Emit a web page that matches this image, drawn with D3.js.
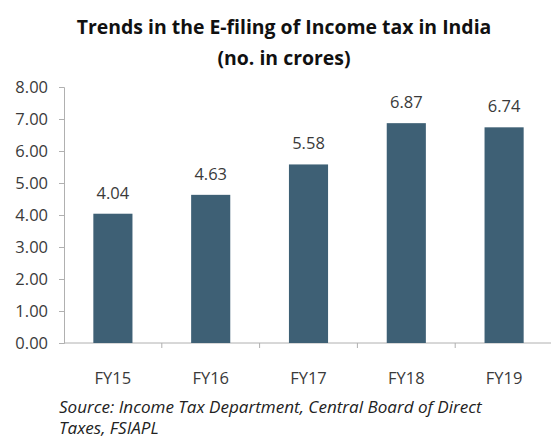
<!DOCTYPE html>
<html>
<head>
<meta charset="utf-8">
<script src="https://cdn.jsdelivr.net/npm/d3@7"></script>
<style>
  html, body { margin: 0; padding: 0; background: #fff; }
  svg { display: block; }
</style>
</head>
<body>
<svg id="chart" width="551" height="439"></svg>
<script>
const categories = ["FY15", "FY16", "FY17", "FY18", "FY19"];
const values = [4.04, 4.63, 5.58, 6.87, 6.74];
const yTicks = [0, 1, 2, 3, 4, 5, 6, 7, 8];
const titleLines = ["Trends in the E-filing of Income tax in India", "(no. in crores)"];
const sourceLines = ["Source: Income Tax Department, Central Board of Direct", "Taxes, FSIAPL"];

const svg = d3.select("#chart");
const font = "'Open Sans', 'Noto Sans', sans-serif";
const textColor = "#3a3a3a";
const axisColor = "#b0b0b0";

const x = d3.scaleBand().domain(categories).range([64, 553]).paddingInner(0.6).paddingOuter(0.3);
const y = d3.scaleLinear().domain([0, 8]).range([343, 87]);

// Title
const title = svg.append("g");
titleLines.forEach((t, i) => {
  title.append("text")
    .attr("x", 284).attr("y", 34 + i * 31)
    .attr("text-anchor", "middle")
    .attr("font-family", font).attr("font-weight", "bold")
    .attr("font-size", 19).attr("fill", "#111")
    .text(t);
});
(function(){
  const t0 = title.select("text").node();
  const w = t0.getComputedTextLength();
  const s = 19 * 415 / w;
  title.selectAll("text").attr("font-size", s);
})();

// Y axis
const yAxis = d3.axisLeft(y).tickValues(yTicks).tickFormat(d3.format(".2f")).tickSize(5).tickPadding(11);
const gy = svg.append("g").attr("transform", "translate(64,0)").call(yAxis);
gy.select(".domain").attr("stroke", axisColor);
gy.selectAll(".tick line").attr("stroke", axisColor);
gy.selectAll(".tick text").attr("font-family", font).attr("font-size", 16.5).attr("fill", textColor);

// X axis
const gx = svg.append("g").attr("transform", "translate(0,343)");
gx.append("line").attr("x1", 64).attr("x2", 553).attr("y1", 0).attr("y2", 0).attr("stroke", axisColor);
const step = x.step();
categories.forEach((c) => {
  const bx = x(c) + x.bandwidth() / 2 + step / 2;
  gx.append("line").attr("x1", bx).attr("x2", bx).attr("y1", 0).attr("y2", 5).attr("stroke", axisColor);
});
gx.selectAll("text.cat").data(categories).enter().append("text")
  .attr("class", "cat")
  .attr("x", d => x(d) + x.bandwidth() / 2)
  .attr("y", 41)
  .attr("text-anchor", "middle")
  .attr("font-family", font).attr("font-size", 16.5).attr("fill", textColor)
  .text(d => d);

// Bars
svg.selectAll("rect.bar").data(values).enter().append("rect")
  .attr("class", "bar")
  .attr("x", (d, i) => x(categories[i]))
  .attr("y", d => y(d))
  .attr("width", x.bandwidth())
  .attr("height", d => y(0) - y(d))
  .attr("fill", "#3e6075");

// Value labels
svg.selectAll("text.val").data(values).enter().append("text")
  .attr("class", "val")
  .attr("x", (d, i) => x(categories[i]) + x.bandwidth() / 2)
  .attr("y", d => y(d) - 15)
  .attr("text-anchor", "middle")
  .attr("font-family", font).attr("font-size", 16.5).attr("fill", textColor)
  .text(d => d3.format(".2f")(d));

// Source
const src = svg.append("g");
sourceLines.forEach((t, i) => {
  src.append("text")
    .attr("x", 59).attr("y", 413 + i * 21)
    .attr("font-family", font).attr("font-style", "italic")
    .attr("font-size", 14).attr("fill", "#222")
    .text(t);
});
(function(){
  const t0 = src.select("text").node();
  const w = t0.getComputedTextLength();
  const s = 14 * 423 / w;
  src.selectAll("text").attr("font-size", s);
})();
</script>
</body>
</html>
